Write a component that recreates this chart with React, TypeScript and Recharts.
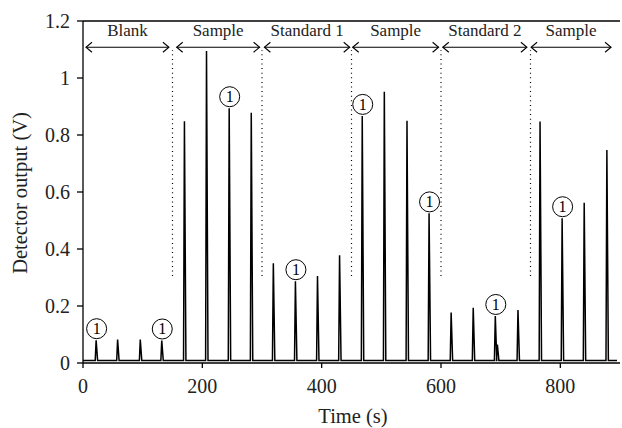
import React from 'react';
import { LineChart, Line, XAxis, YAxis, ReferenceLine, ReferenceDot } from 'recharts';

// Peak times (s) and heights (V)
const peakTimes = [22, 58, 96, 132, 170, 207, 245, 282, 319, 356, 393, 430, 468, 505, 543, 580, 617, 654, 691, 729, 766, 803, 840, 878];
const peakHeights = [0.08, 0.082, 0.082, 0.079, 0.848, 1.095, 0.894, 0.878, 0.35, 0.287, 0.305, 0.378, 0.867, 0.952, 0.85, 0.525, 0.177, 0.194, 0.165, 0.186, 0.847, 0.508, 0.562, 0.747];
const shoulderTimes = [694.5];
const shoulderHeights = [0.065];
const baselineLevel = 0.009;
const runStart = 0;
const runEnd = 895;

// Peaks marked with a circled "1"
const circledPeakTimes = [22, 132, 245, 356, 468, 580, 691, 803];

// Sections along the top
const sectionLabels = ['Blank', 'Sample', 'Standard 1', 'Sample', 'Standard 2', 'Sample'];
const arrowStarts = [5, 157, 304, 452, 603, 751];
const arrowEnds = [144, 296, 447, 596, 744, 885];
const arrowLevel = 1.108;
const dividerTimes = [150, 300, 450, 600, 750];
const dividerBottom = 0.305;
const dividerTop = 1.098;

const xTicks = [0, 200, 400, 600, 800];
const yTicks = [0, 0.2, 0.4, 0.6, 0.8, 1, 1.2];

const FONT = '"Liberation Serif", "Times New Roman", serif';

type Pt = { t: number; v: number };
const marks: { t: number; h: number }[] = [
  ...peakTimes.map((t, i) => ({ t, h: peakHeights[i] })),
  ...shoulderTimes.map((t, i) => ({ t, h: shoulderHeights[i] })),
].sort((a, b) => a.t - b.t);

const trace: Pt[] = [{ t: runStart, v: baselineLevel }];
marks.forEach((m) => {
  trace.push({ t: m.t - 1.5, v: baselineLevel });
  trace.push({ t: m.t, v: m.h });
  trace.push({ t: m.t + 2.5, v: baselineLevel });
});
trace.push({ t: runEnd, v: baselineLevel });

const ArrowShape = (props: any) => {
  const { x1, y1, x2, y2, text } = props;
  const a = 6;
  const b = 5;
  return (
    <g>
      <line x1={x1} y1={y1} x2={x2} y2={y2} stroke="#000" strokeWidth={1.1} />
      <polyline points={`${x1 + a},${y1 - b} ${x1},${y1} ${x1 + a},${y1 + b}`} fill="none" stroke="#000" strokeWidth={1.1} />
      <polyline points={`${x2 - a},${y2 - b} ${x2},${y2} ${x2 - a},${y2 + b}`} fill="none" stroke="#000" strokeWidth={1.1} />
      <text x={(x1 + x2) / 2} y={y1 - 11} textAnchor="middle" fontFamily={FONT} fontSize={17} fill="#222">
        {text}
      </text>
    </g>
  );
};

const CircleMark = (props: any) => {
  const { cx, cy } = props;
  const c = cy - 11.5;
  return (
    <g>
      <circle cx={cx + 0.5} cy={c} r={10} fill="#fff" stroke="#000" strokeWidth={1} />
      <text x={cx + 0.5} y={c + 5.5} textAnchor="middle" fontFamily={FONT} fontSize={16} fill="#000">
        1
      </text>
    </g>
  );
};

export default function App() {
  return (
    <div style={{ position: 'absolute', left: 0, top: 0, background: '#fff' }}>
      <LineChart width={622} height={428} data={trace} margin={{ top: 21, right: 2, left: 0, bottom: 20 }}>
        <XAxis
          dataKey="t"
          type="number"
          domain={[0, 900]}
          ticks={xTicks}
          allowDataOverflow
          tickSize={5}
          tickMargin={11}
          height={45}
          stroke="#000"
          strokeWidth={1.3}
          tick={{ fill: '#222', fontSize: 20, fontFamily: FONT }}
          tickLine={{ stroke: '#000' }}
          label={(p: any) => (
            <text x={353} y={423} textAnchor="middle" fontFamily={FONT} fontSize={20.5} fill="#222">
              Time (s)
            </text>
          )}
        />
        <YAxis
          type="number"
          domain={[0, 1.2]}
          ticks={yTicks}
          width={83}
          tickSize={6}
          tickMargin={7}
          stroke="#000"
          strokeWidth={1.3}
          tickFormatter={(v: number) => String(v)}
          tick={{ fill: '#222', fontSize: 20, fontFamily: FONT }}
          tickLine={{ stroke: '#000' }}
          label={(p: any) => (
            <text x={26.5} y={193} transform="rotate(-90, 26.5, 193)" textAnchor="middle" fontFamily={FONT} fontSize={20.5} fill="#222">
              Detector output (V)
            </text>
          )}
        />
        <ReferenceLine y={1.2} stroke="#000" strokeWidth={1.3} ifOverflow="visible" />
        {dividerTimes.map((t) => (
          <ReferenceLine
            key={'d' + t}
            segment={[{ x: t, y: dividerBottom }, { x: t, y: dividerTop }]}
            stroke="#000"
            strokeWidth={1.2}
            strokeDasharray="1 3.6"
            ifOverflow="visible"
          />
        ))}
        {sectionLabels.map((lab, i) => (
          <ReferenceLine
            key={'a' + i}
            segment={[{ x: arrowStarts[i], y: arrowLevel }, { x: arrowEnds[i], y: arrowLevel }]}
            ifOverflow="visible"
            shape={(p: any) => <ArrowShape {...p} text={lab} />}
          />
        ))}
        <Line dataKey="v" type="linear" dot={false} activeDot={false} stroke="#000" strokeWidth={1.5} isAnimationActive={false} />
        {circledPeakTimes.map((t) => {
          const h = peakHeights[peakTimes.indexOf(t)];
          return <ReferenceDot key={'c' + t} x={t} y={h} ifOverflow="visible" shape={(p: any) => <CircleMark {...p} />} />;
        })}
      </LineChart>
    </div>
  );
}
